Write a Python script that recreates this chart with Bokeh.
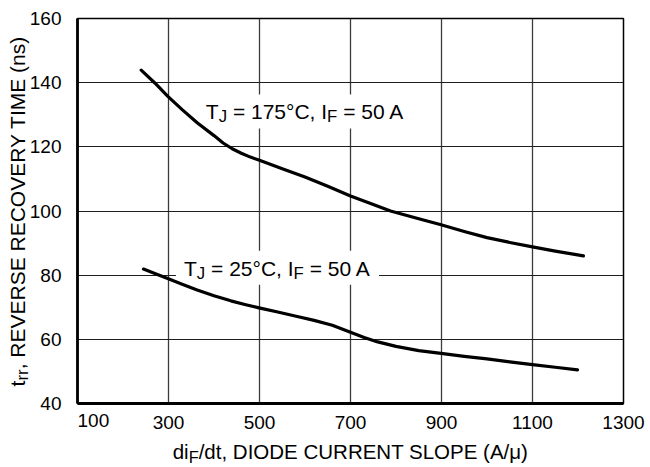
from bokeh.plotting import figure
from bokeh.models import Label, BoxAnnotation, FixedTicker, Range1d
from bokeh.core.properties import value
from bokeh.embed import file_html
from bokeh.resources import INLINE

# ---------------- data ----------------
slope_175 = [240, 270, 298, 330, 363, 400, 420, 440, 460, 480, 500, 550, 600, 650, 700, 750,
             788, 850, 899, 950, 1000, 1050, 1100, 1150, 1212]
trr_175 = [143.9, 139.9, 135.8, 131.6, 127.5, 123.5, 121.2, 119.4, 118.0, 116.8, 115.8, 113.2,
           110.6, 107.7, 104.7, 102.0, 100.0, 97.6, 95.7, 93.6, 91.7, 90.2, 88.8, 87.5, 86.0]

slope_25 = [245, 270, 301, 330, 363, 400, 437, 470, 499, 540, 583, 620, 660, 700, 730,
            760, 800, 850, 899, 950, 1000, 1050, 1100, 1150, 1199]
trr_25 = [81.9, 80.5, 78.8, 77.2, 75.4, 73.6, 72.0, 70.8, 69.8, 68.5, 67.1, 65.9, 64.4,
          62.2, 60.6, 59.2, 57.8, 56.5, 55.6, 54.7, 53.9, 53.0, 52.1, 51.3, 50.5]

x_ticks = [100, 300, 500, 700, 900, 1100, 1300]
y_ticks = [40, 60, 80, 100, 120, 140, 160]
x_grid = [300, 500, 700, 900, 1100]
y_grid = [60, 80, 100, 120, 140]

label_175 = [("T", False), ("J", True), (" = 175°C, I", False), ("F", True), (" = 50 A", False)]
label_25 = [("T", False), ("J", True), (" = 25°C, I", False), ("F", True), (" = 50 A", False)]
x_title = [("di", False), ("F", True), ("/dt, DIODE CURRENT SLOPE (A/μ)", False)]
y_title = [("t", False), ("rr", True), (", REVERSE RECOVERY TIME (ns)", False)]

FONT = "Liberation Sans"

# Liberation Sans (Arial-metric) advance widths, per 1000 em
W = {' ': 278, ',': 278, '.': 278, '/': 278, '(': 333, ')': 333, '=': 584, '°': 400,
     'A': 667, 'C': 722, 'D': 722, 'E': 667, 'F': 611, 'I': 278, 'J': 500, 'L': 556,
     'M': 833, 'N': 722, 'O': 778, 'P': 667, 'R': 722, 'S': 667, 'T': 611, 'U': 722,
     'V': 667, 'Y': 667, 'd': 556, 'i': 222, 'n': 556, 'r': 333, 's': 500, 't': 278,
     'μ': 576}
for _d in "0123456789":
    W[_d] = 556


def tw(s, size):
    return sum(W.get(c, 556) for c in s) / 1000.0 * size


W_PX, H_PX = 546, 385
X0, X1, Y0, Y1 = 100, 1300, 40, 160
XPX = W_PX / (X1 - X0)
YPX = H_PX / (Y1 - Y0)
BL = 0.37  # observed baseline correction (em) for "alphabetic" text

p = figure(width=650, height=467, output_backend="svg", toolbar_location=None,
           x_range=Range1d(X0, X1), y_range=Range1d(Y0, Y1),
           min_border_left=77, min_border_right=27, min_border_top=18, min_border_bottom=64)
p.background_fill_color = "white"
p.border_fill_color = "white"
p.outline_line_color = "black"
p.outline_line_width = 1.5

for ax in (p.xaxis, p.yaxis):
    ax.axis_line_color = "black"
    ax.axis_line_width = 2.8
    ax.major_tick_line_color = None
    ax.minor_tick_line_color = None
    ax.major_label_text_font = FONT
    ax.major_label_text_font_size = "19px"
    ax.major_label_text_color = "black"

p.xaxis.ticker = FixedTicker(ticks=x_ticks)
p.yaxis.ticker = FixedTicker(ticks=y_ticks)
p.xaxis.major_label_overrides = {100: ""}
p.xaxis.major_label_standoff = 6
p.yaxis.major_label_standoff = 10

p.xgrid.ticker = FixedTicker(ticks=x_grid)
p.ygrid.ticker = FixedTicker(ticks=y_grid)
p.xgrid.grid_line_color = "#3c3c3c"
p.xgrid.grid_line_width = 1.3
p.ygrid.grid_line_color = "#1e1e1e"
p.ygrid.grid_line_width = 1.1
p.xgrid.level = "image"
p.ygrid.level = "image"


def seg_layout(segs, size, center):
    sub = size * 0.8
    drop = size * 0.17
    widths = [tw(t, sub if s else size) for t, s in segs]
    total = sum(widths)
    cum = -total / 2 if center else 0.0
    out = []
    for (t, s), w in zip(segs, widths):
        fs = sub if s else size
        lead = len(t) - len(t.lstrip(" "))
        out.append((t.strip(" "), fs, cum + tw(" " * lead, fs), (drop if s else 0.0) - BL * fs))
        cum += w
    return out, total


def rich_label(x, y, segs, size):
    """Annotation text inside the plot area (Label, up-positive y_offset)."""
    parts, total = seg_layout(segs, size, False)
    for txt, fs, off, d in parts:
        p.add_layout(Label(x=x, y=y, x_offset=off, y_offset=-d, text=txt,
                           text_font=FONT, text_font_size=f"{fs:.2f}px",
                           text_align="left", text_baseline="alphabetic",
                           text_color="black"))
    return total


def rich_outside(x, y, segs, size, angle=0.0, center=False, dx=0.0, dy_down=0.0):
    """Text outside the frame: text glyphs at overlay level (not clipped)."""
    parts, total = seg_layout(segs, size, center)
    for txt, fs, off, d in parts:
        if angle == 0:
            xo, yo = dx + off, dy_down + d
        else:
            xo, yo = dx + d, dy_down - off
        p.text(x=[x], y=[y], text=[txt], x_offset=xo, y_offset=yo, angle=angle,
               text_font=value(FONT), text_font_size=value(f"{fs:.2f}px"),
               text_align="left", text_baseline="alphabetic", text_color="black",
               level="overlay")
    return total


def boxed_label(x, y, segs, size):
    total = sum(tw(t, size * 0.8 if s else size) for t, s in segs)
    p.add_layout(BoxAnnotation(left=x - 8 / XPX, right=x + (total + 8) / XPX,
                               bottom=y - 9 / YPX, top=y + 25 / YPX,
                               fill_color="white", fill_alpha=1.0, line_color=None,
                               level="underlay"))
    rich_label(x, y, segs, size)


boxed_label(382, 128.5, label_175, 21)
boxed_label(334, 79.8, label_25, 21)

p.line(slope_175, trr_175, line_color="black", line_width=3.2, line_cap="round", line_join="round")
p.line(slope_25, trr_25, line_color="black", line_width=3.2, line_cap="round", line_join="round")

# "100" tick label sits right of its tick in the reference
rich_outside(100, 40, [("100", False)], 19, dx=0, dy_down=23.6)
# axis titles with subscripts
rich_outside(700, 40, x_title, 20.5, center=True, dy_down=56)
rich_outside(100, 100, y_title, 21, angle=1.5707963267948966, center=True, dx=-52)

open("out.html", "w").write(file_html(p, INLINE))
